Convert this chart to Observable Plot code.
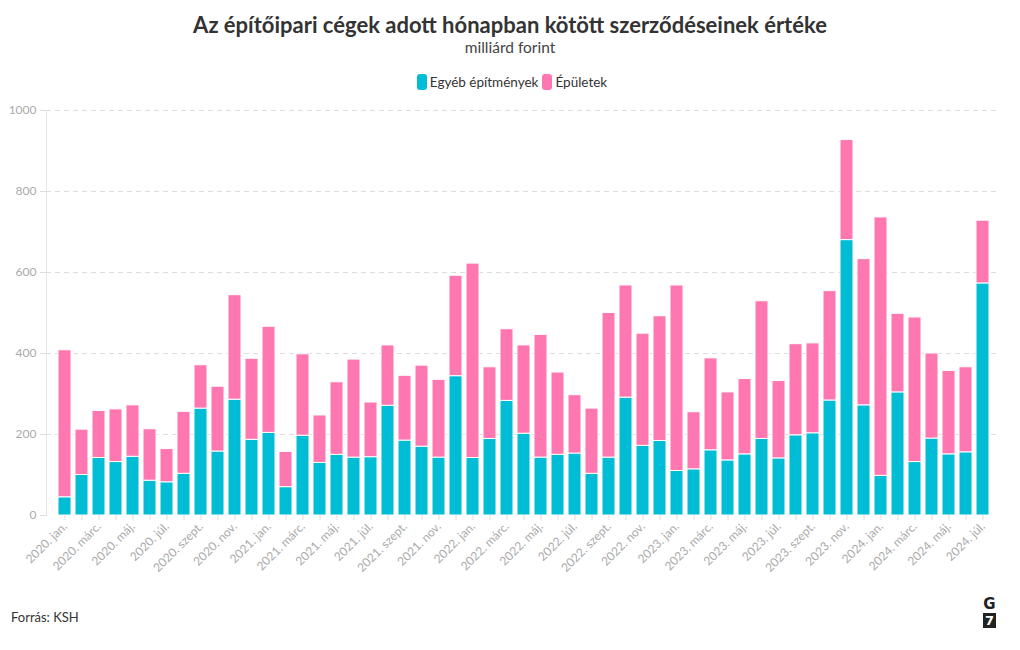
<!DOCTYPE html>
<html>
<head>
<meta charset="utf-8">
<script src="https://cdn.jsdelivr.net/npm/d3@7"></script>
<script src="https://cdn.jsdelivr.net/npm/@observablehq/plot@0.6"></script>
<style>
  html, body { margin: 0; padding: 0; background: #fff; }
  body { width: 1020px; height: 650px; position: relative; font-family: Lato, "Noto Sans", sans-serif; color: #333; overflow: hidden; }
  #title { position: absolute; top: 11px; left: 0; width: 1020px; text-align: center; font-weight: 700; font-size: 22px; color: #333; }
  #subtitle { position: absolute; top: 38px; left: 0; width: 1020px; text-align: center; font-size: 15.5px; color: #444; }
  #legend { position: absolute; top: 74px; left: 0; width: 1020px; display: flex; justify-content: center; align-items: center; font-size: 13.5px; color: #333; }
  .sw { display: inline-block; width: 10px; height: 16px; border-radius: 3px; margin: 0 3px 0 4px; }
  #chart { position: absolute; top: 100px; left: 0; }
  #source { position: absolute; top: 609px; left: 11px; font-size: 13px; color: #333; }
  #logo { position: absolute; left: 983px; top: 597px; width: 13px; text-align: center; font-family: "DejaVu Sans", sans-serif; font-weight: 700; }
  #logo .g { font-size: 15px; line-height: 15px; color: #222; }
  #logo .s { background: #222; color: #fff; font-size: 13px; line-height: 15px; height: 15px; margin-top: 1px; }
</style>
</head>
<body>
<div id="title">Az építőipari cégek adott hónapban kötött szerződéseinek értéke</div>
<div id="subtitle">milliárd forint</div>
<div id="legend"></div>
<div id="chart"></div>
<div id="source">Forrás: KSH</div>
<div id="logo"><div class="g">G</div><div class="s">7</div></div>
<script>
const months = [
  "2020. jan.","2020. febr.","2020. márc.","2020. ápr.","2020. máj.","2020. jún.","2020. júl.","2020. aug.","2020. szept.","2020. okt.","2020. nov.","2020. dec.",
  "2021. jan.","2021. febr.","2021. márc.","2021. ápr.","2021. máj.","2021. jún.","2021. júl.","2021. aug.","2021. szept.","2021. okt.","2021. nov.","2021. dec.",
  "2022. jan.","2022. febr.","2022. márc.","2022. ápr.","2022. máj.","2022. jún.","2022. júl.","2022. aug.","2022. szept.","2022. okt.","2022. nov.","2022. dec.",
  "2023. jan.","2023. febr.","2023. márc.","2023. ápr.","2023. máj.","2023. jún.","2023. júl.","2023. aug.","2023. szept.","2023. okt.","2023. nov.","2023. dec.",
  "2024. jan.","2024. febr.","2024. márc.","2024. ápr.","2024. máj.","2024. jún.","2024. júl."
];
const seriesNames = ["Egyéb építmények", "Épületek"];
const seriesColors = ["#00BCD4", "#FF77B0"];
const egyeb = [45,100,142,132,145,86,82,103,264,158,286,187,
  204,70,197,130,150,143,144,271,185,170,143,344,
  142,189,283,202,143,150,153,103,143,291,172,184,
  110,114,161,136,151,189,141,198,203,284,680,272,
  98,304,132,190,151,156,573];
const epuletek = [363,112,116,130,127,127,82,153,107,160,258,200,
  262,87,201,117,179,242,135,149,160,200,192,248,
  480,177,177,218,303,203,144,161,357,277,277,308,
  458,141,227,168,186,340,191,225,222,270,247,361,
  638,194,357,210,206,210,155];
const yTicks = [0, 200, 400, 600, 800, 1000];

const data = [];
months.forEach((m, i) => {
  data.push({month: m, series: seriesNames[0], value: egyeb[i]});
  data.push({month: m, series: seriesNames[1], value: epuletek[i]});
});

// legend
const legend = document.getElementById("legend");
seriesNames.forEach((s, i) => {
  const sw = document.createElement("span");
  sw.className = "sw";
  sw.style.background = seriesColors[i];
  const t = document.createElement("span");
  t.textContent = s;
  legend.appendChild(sw);
  legend.appendChild(t);
});

const chart = Plot.plot({
  width: 1020,
  height: 495,
  marginTop: 10,
  marginBottom: 80,
  marginLeft: 46,
  marginRight: 20,
  style: {fontFamily: "Lato, 'Noto Sans', sans-serif", fontSize: "12px", background: "white", overflow: "visible"},
  x: {domain: months, padding: 0.25, label: null},
  y: {domain: [0, 1000], label: null},
  color: {domain: seriesNames, range: seriesColors},
  marks: [
    Plot.gridY(yTicks.slice(1), {stroke: "#dddddd", strokeOpacity: 1, strokeDasharray: "5,4"}),
    Plot.frame({anchor: "left", stroke: "#e6e6e6"}),
    Plot.barY(data, {x: "month", y: "value", fill: "series", stroke: "white", strokeWidth: 1, order: seriesNames}),
    Plot.axisY(yTicks, {tickSize: 6, stroke: "#dddddd", fill: "#aaaaaa", label: null, tickPadding: 4, tickFormat: d => String(d)}),
    Plot.axisX({tickSize: 5, stroke: "#dddddd", fill: "#aaaaaa", tickRotate: -45, tickPadding: 4, label: null,
      tickFormat: d => months.indexOf(d) % 2 === 0 ? d : ""})
  ]
});
document.getElementById("chart").appendChild(chart);
</script>
</body>
</html>
